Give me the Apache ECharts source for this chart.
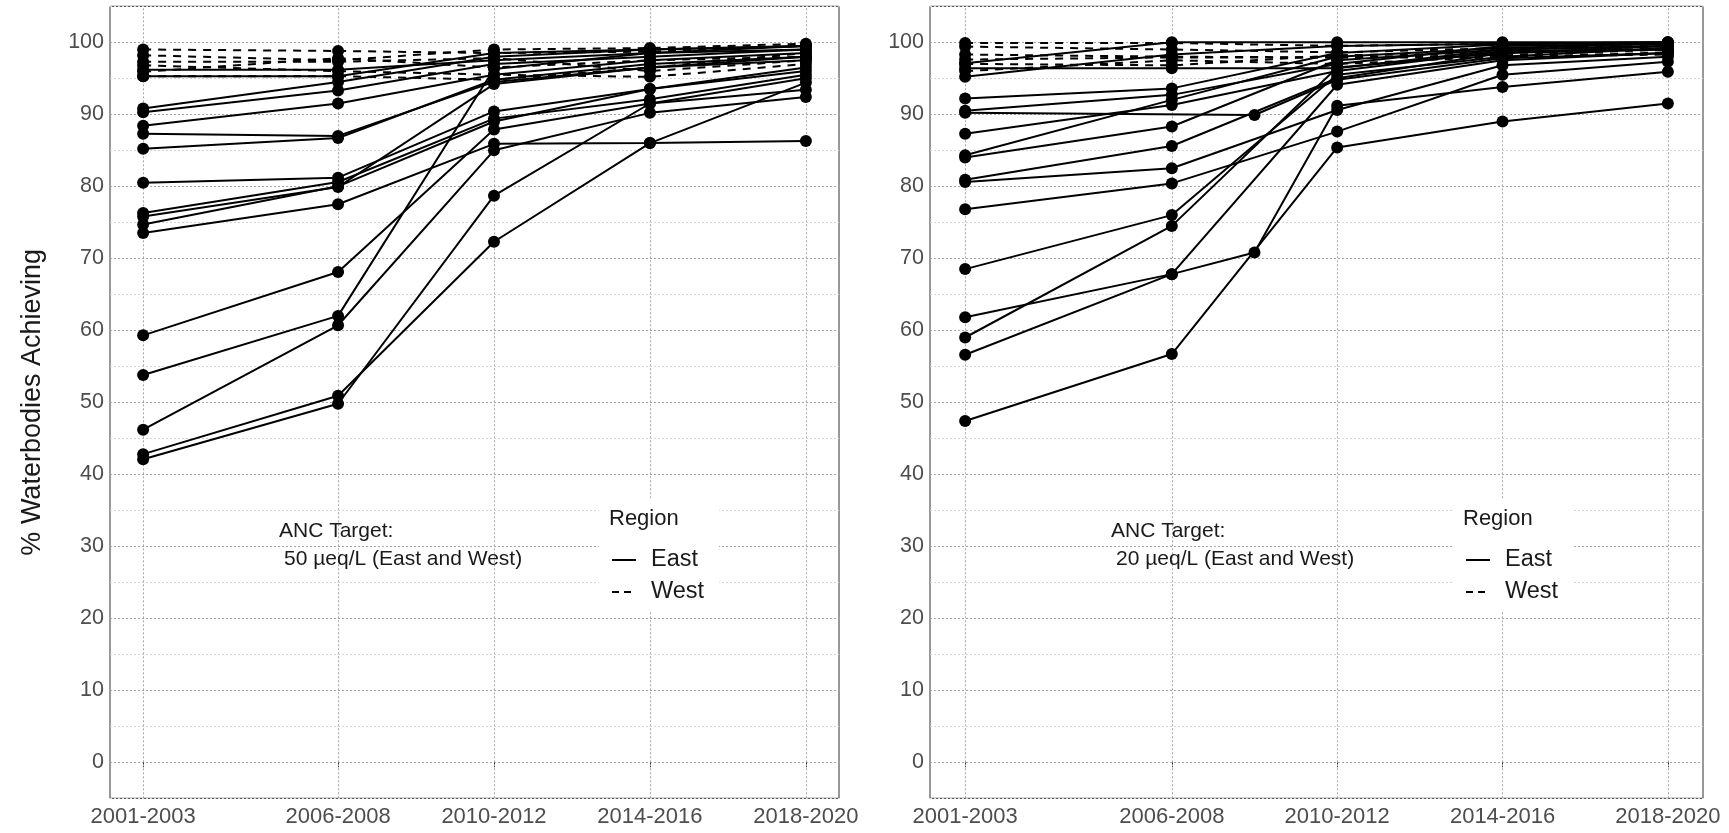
<!DOCTYPE html>
<html><head><meta charset="utf-8">
<script src="https://cdn.jsdelivr.net/npm/echarts@6/dist/echarts.min.js"></script>
<style>html,body{margin:0;padding:0;background:#fff}#c{width:1729px;height:833px}</style>
</head><body><div id="c"></div>
<script>
// sampling period mid-years (x positions on a value axis)
const periodYears = [2002, 2007, 2009, 2011, 2015, 2019];
const tickYears = [2002, 2007, 2011, 2015, 2019];
const tickLabels = ['2001-2003', '2006-2008', '2010-2012', '2014-2016', '2018-2020'];
const yTickValues = [0, 10, 20, 30, 40, 50, 60, 70, 80, 90, 100];

// Panel 1: ANC target 50 µeq/L — values at periodYears (null = no sample)
const east50 = [
  [95.3, 95.3, null, 98.5, 99.0, 99.5],
  [96.2, 96.2, null, 97.5, 98.5, 99.0],
  [90.8, 94.5, null, 98.0, 99.0, 99.5],
  [90.3, 93.3, null, 97.0, 98.0, 99.0],
  [88.4, 91.5, null, 95.5, 97.5, 98.5],
  [87.3, 87.0, null, 94.5, 96.5, 97.5],
  [85.2, 86.7, null, 94.8, 97.0, 98.0],
  [80.5, 81.2, null, 90.4, 93.5, 96.0],
  [76.3, 80.6, null, 89.4, 92.1, 95.5],
  [75.8, 79.9, null, 94.2, 96.5, 98.0],
  [74.7, 80.0, null, 89.0, 93.5, 96.5],
  [73.5, 77.5, null, 85.9, 86.0, 86.3],
  [59.3, 68.1, null, 87.9, 91.5, 93.4],
  [53.8, 62.0, null, 96.3, 98.5, 99.5],
  [46.2, 60.7, null, 85.0, 90.2, 92.4],
  [42.8, 50.9, null, 72.3, 86.0, 94.4],
  [42.1, 49.8, null, 78.7, 91.5, 95.0]
];
const west50 = [
  [99.0, 98.8, null, 98.5, 98.7, 99.5],
  [98.2, 97.5, null, 99.0, 99.2, 99.8],
  [97.3, 97.3, null, 97.8, 96.0, 97.5],
  [96.8, 96.0, null, 95.5, 95.2, 97.0],
  [95.9, 97.8, null, 96.5, 97.5, 98.0],
  [95.3, 95.3, null, 94.8, 96.5, 98.5]
];

// Panel 2: ANC target 20 µeq/L
const east20 = [
  [47.4, 56.7, null, 85.4, 89.0, 91.5],
  [61.8, 67.8, 70.8, 91.2, 93.8, 95.9],
  [56.6, 67.8, null, 94.1, 97.5, 98.5],
  [59.0, 74.5, null, 96.5, 98.5, 99.0],
  [68.5, 76.0, null, 95.5, 98.0, 99.2],
  [76.8, 80.4, null, 87.6, 95.5, 97.3],
  [80.6, 82.5, null, 90.6, 96.8, 98.0],
  [80.9, 85.6, null, 95.0, 98.5, 99.5],
  [84.0, 88.3, null, 97.5, 99.0, 99.5],
  [84.3, 92.0, null, 98.0, 99.2, 99.8],
  [87.3, 91.3, null, 96.0, 98.8, 99.0],
  [90.2, null, 89.9, 94.8, 97.8, 98.5],
  [90.5, 92.7, null, 97.0, 99.5, 99.8],
  [92.2, 93.6, null, 98.5, 99.7, 100],
  [96.4, 96.4, null, 96.4, 99.0, 99.5],
  [97.1, 100, null, 100, 100, 100],
  [95.2, 98.3, null, 99.5, 99.8, 100]
];
const west20 = [
  [99.9, 99.9, null, 99.5, 99.8, 99.9],
  [99.4, 99.0, null, 98.6, 99.2, 99.5],
  [98.3, 98.0, null, 97.9, 98.2, 99.0],
  [97.6, 97.9, null, 97.9, 97.9, 98.6],
  [97.0, 96.8, null, 98.2, 98.5, 99.2],
  [96.0, 97.5, null, 97.0, 98.0, 98.3]
];

const FONT = '"Liberation Sans", Arial, sans-serif';
const chart = echarts.init(document.getElementById('c'), null, {renderer: 'canvas'});

function toPairs(vals) {
  const out = [];
  periodYears.forEach((y, i) => { if (vals[i] != null) out.push([y, vals[i]]); });
  return out;
}
function lineSeries(vals, idx, dashed) {
  return {
    type: 'line', name: dashed ? 'West' : 'East',
    xAxisIndex: idx, yAxisIndex: idx,
    data: toPairs(vals),
    showSymbol: false, symbol: 'none',
    lineStyle: {color: '#000', width: 2, type: dashed ? [8, 7] : 'solid'},
    emphasis: {disabled: true},
    z: 3, silent: true, animation: false
  };
}
function pointSeries(groups, idx) {
  const data = [];
  groups.forEach(g => g.forEach(vals => toPairs(vals).forEach(p => data.push(p))));
  return {
    type: 'scatter', xAxisIndex: idx, yAxisIndex: idx, data: data,
    symbol: 'circle', symbolSize: 12,
    itemStyle: {color: '#000', opacity: 1, borderWidth: 0},
    emphasis: {disabled: true}, z: 4, silent: true, animation: false
  };
}
function gridSeries(idx) {
  return {
    type: 'line', xAxisIndex: idx, yAxisIndex: idx, data: [], z: 1, silent: true,
    markLine: {
      z: 1, silent: true, symbol: 'none', animation: false, label: {show: false},
      lineStyle: {color: '#a8a8a8', width: 1, type: [2, 2]},
      data: tickYears.map(v => ({xAxis: v}))
    }
  };
}
function xAxis(idx) {
  return {
    type: 'value', gridIndex: idx, min: 2001.15, max: 2019.85,
    axisLine: {show: false},
    axisTick: {show: true, customValues: tickYears, length: 5, lineStyle: {color: '#333'}},
    axisLabel: {customValues: tickYears, fontFamily: FONT, fontSize: 22, color: '#4d4d4d', margin: 8,
      formatter: v => tickLabels[tickYears.indexOf(v)] || ''},
    splitLine: {show: false}
  };
}
function yAxis(idx) {
  const ax = {
    type: 'value', gridIndex: idx, min: -5, max: 105, interval: 5,
    axisLine: {show: false}, axisTick: {show: false},
    axisLabel: {fontFamily: FONT, fontSize: 21.5, color: '#4d4d4d', margin: 6,
      formatter: v => (yTickValues.indexOf(v) >= 0 ? String(v) : '')},
    splitLine: {show: true, lineStyle: {color: ['#d4d4d4', '#a8a8a8'], width: 1, type: [2, 2]}}
  };
  if (idx === 0) {
    Object.assign(ax, {name: '% Waterbodies Achieving', nameLocation: 'middle', nameRotate: 90, nameGap: 64,
      nameTextStyle: {fontFamily: FONT, fontSize: 27, color: '#1a1a1a'}});
  }
  return ax;
}

const series = [gridSeries(0), gridSeries(1)];
east50.forEach(v => series.push(lineSeries(v, 0, false)));
west50.forEach(v => series.push(lineSeries(v, 0, true)));
east20.forEach(v => series.push(lineSeries(v, 1, false)));
west20.forEach(v => series.push(lineSeries(v, 1, true)));
series.push(pointSeries([east50, west50], 0));
series.push(pointSeries([east20, west20], 1));

function legendGraphics(x0, annX, annTarget) {
  const ts = {fontFamily: FONT, fill: '#1a1a1a'};
  return [
    {type: 'text', left: annX, top: 521, z: 10, style: Object.assign({text: 'ANC Target:', fontSize: 21}, ts)},
    {type: 'text', left: annX + 5, top: 549, z: 10, style: Object.assign({text: annTarget, fontSize: 21}, ts)},
    {type: 'rect', shape: {x: x0 - 10, y: 500, width: 120, height: 112}, style: {fill: '#fff'}, z: 5},
    {type: 'text', x: x0, y: 519, z: 10, style: Object.assign({text: 'Region', fontSize: 22, verticalAlign: 'middle'}, ts)},
    {type: 'line', shape: {x1: x0 + 3, y1: 560, x2: x0 + 27, y2: 560}, style: {stroke: '#000', lineWidth: 2}, z: 10},
    {type: 'text', x: x0 + 42, y: 560, z: 10, style: Object.assign({text: 'East', fontSize: 23.5, verticalAlign: 'middle'}, ts)},
    {type: 'line', shape: {x1: x0 + 3, y1: 592, x2: x0 + 27, y2: 592}, style: {stroke: '#000', lineWidth: 2, lineDash: [7, 5]}, z: 10},
    {type: 'text', x: x0 + 42, y: 592, z: 10, style: Object.assign({text: 'West', fontSize: 23.5, verticalAlign: 'middle'}, ts)}
  ];
}

chart.setOption({
  animation: false,
  backgroundColor: '#fff',
  grid: [
    {left: 110, top: 6.3, width: 729, height: 792, show: true, borderColor: '#333', borderWidth: 1, backgroundColor: 'transparent', outerBoundsMode: 'none', containLabel: false},
    {left: 930, top: 6.3, width: 773, height: 792, show: true, borderColor: '#333', borderWidth: 1, backgroundColor: 'transparent', outerBoundsMode: 'none', containLabel: false}
  ],
  xAxis: [xAxis(0), xAxis(1)],
  yAxis: [yAxis(0), yAxis(1)],
  series: series,
  graphic: legendGraphics(609, 279, '50 µeq/L (East and West)').concat(legendGraphics(1463, 1111, '20 µeq/L (East and West)'))
});
</script></body></html>
